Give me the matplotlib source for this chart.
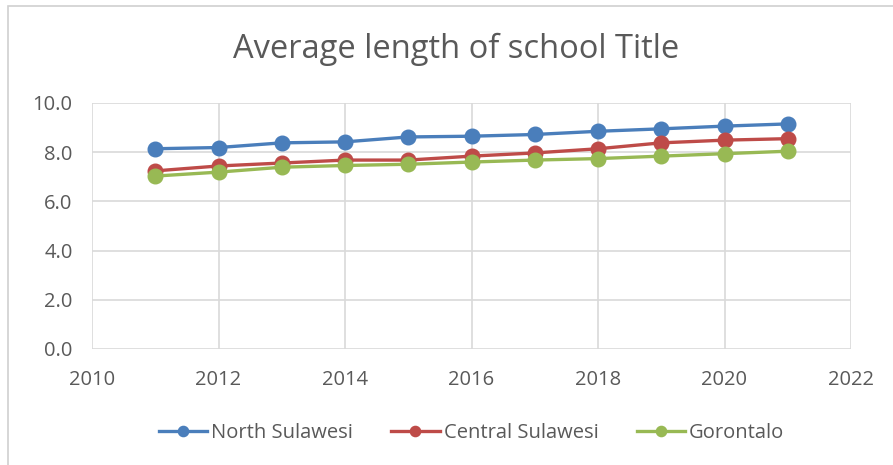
import matplotlib
matplotlib.use('Agg')
import matplotlib.pyplot as plt
from matplotlib.patches import Rectangle

years = [2011, 2012, 2013, 2014, 2015, 2016, 2017, 2018, 2019, 2020, 2021]
north_sulawesi = [8.14, 8.19, 8.38, 8.42, 8.62, 8.65, 8.72, 8.85, 8.95, 9.06, 9.15]
central_sulawesi = [7.24, 7.44, 7.56, 7.68, 7.68, 7.84, 7.97, 8.14, 8.38, 8.49, 8.55]
gorontalo = [7.03, 7.19, 7.39, 7.46, 7.51, 7.60, 7.68, 7.74, 7.84, 7.94, 8.04]

series = [("North Sulawesi", north_sulawesi, '#4A7EBB'),
          ("Central Sulawesi", central_sulawesi, '#BE4B48'),
          ("Gorontalo", gorontalo, '#98B954')]

plt.rcParams['font.family'] = ['Open Sans', 'DejaVu Sans']
grey = '#595959'

fig = plt.figure(figsize=(8.93, 4.65), dpi=100)
ax = fig.add_axes([92/893, 1 - 349/465, (851 - 92)/893, (349 - 103)/465])

# chart frame
fig.patches.append(Rectangle((8/893, -0.05), 1.0, 1 - 6/465 + 0.05,
                             transform=fig.transFigure, fill=False,
                             edgecolor='#d0d0d0', linewidth=1.2))

for name, vals, col in series:
    ax.plot(years, vals, color=col, linewidth=2.4, marker='o',
            markersize=10.5, label=name, zorder=3)

ax.set_xlim(2010, 2022)
ax.set_ylim(0, 10)
ax.set_xticks(range(2010, 2023, 2))
ax.set_yticks([0, 2, 4, 6, 8, 10])
ax.set_yticklabels(['%.1f' % v for v in [0, 2, 4, 6, 8, 10]])
ax.grid(True, color='#d9d9d9', linewidth=1.2)
ax.set_axisbelow(True)
for s in ax.spines.values():
    s.set_visible(False)
ax.tick_params(length=0, labelsize=14.5, labelcolor=grey)
ax.tick_params(axis='x', pad=15)
ax.tick_params(axis='y', pad=14)

fig.text(456/893, 1 - 49/465, 'Average length of school Title', ha='center',
         va='center', fontsize=23.5, color=grey)

ax.legend(loc='center', bbox_to_anchor=(0.5, (349 - 433)/(349 - 103)),
          ncol=3, frameon=False, fontsize=14.5, labelcolor=grey,
          handlelength=2.4, columnspacing=1.9, handletextpad=0.2,
          markerscale=0.7)

fig.savefig('out.png', dpi=100)
